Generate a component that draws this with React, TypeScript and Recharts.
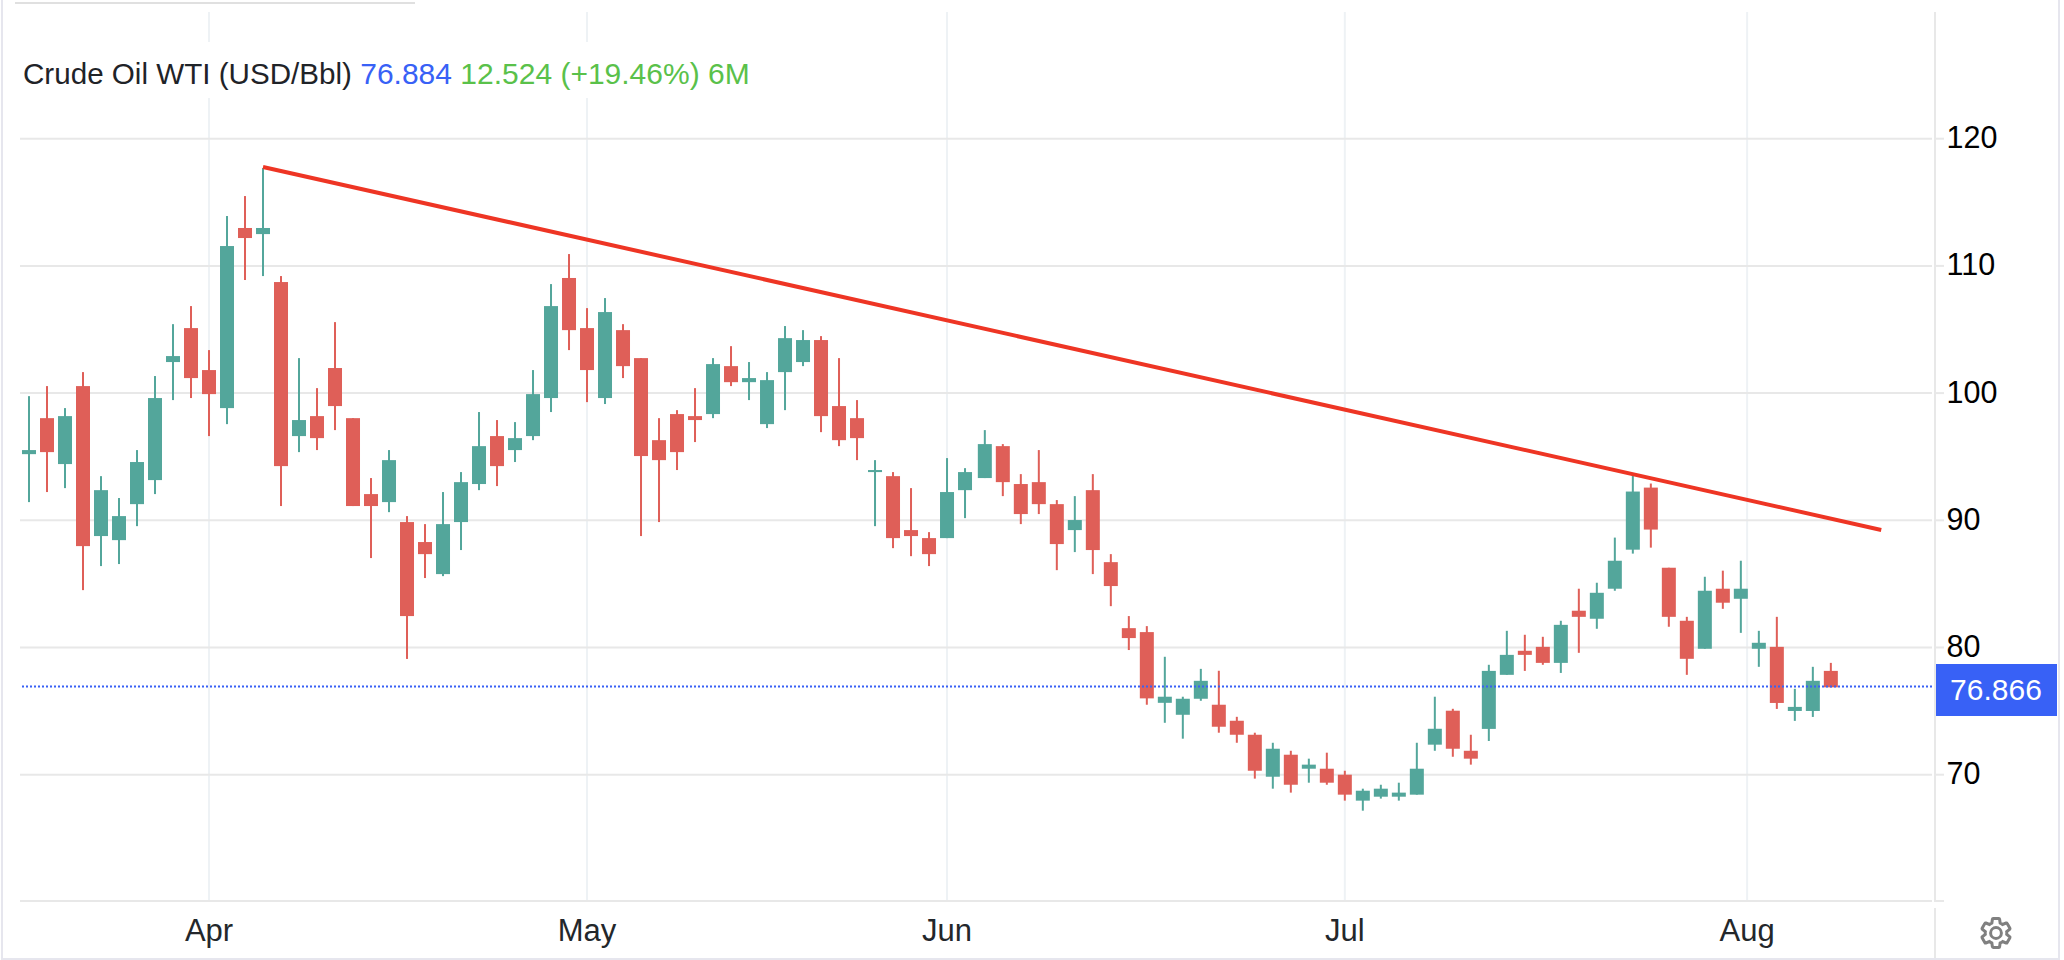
import { ComposedChart, Bar, XAxis, YAxis, CartesianGrid, ReferenceLine } from 'recharts';

const opens = [
  95.2, 98.03, 94.42, 100.55, 88.76, 88.44, 91.27, 93.16, 102.44, 105.11,
  101.81, 98.82, 112.98, 112.5, 108.73, 96.62, 98.19, 101.97, 98.03, 92.06,
  91.43, 89.86, 88.29, 85.77, 89.86, 92.85, 96.62, 95.52, 96.62, 99.61,
  109.05, 105.11, 99.61, 104.95, 102.75, 96.3, 98.35, 98.19, 98.35, 102.12,
  100.86, 97.56, 101.65, 102.44, 104.17, 98.98, 98.03, 93.79, 93.47, 89.23,
  88.6, 88.6, 92.37, 93.32, 95.83, 92.85, 93.0, 91.27, 89.23, 92.37,
  86.71, 81.52, 81.21, 75.65, 74.71, 75.97, 75.5, 74.24, 73.14, 69.84,
  71.57, 70.47, 70.47, 70.0, 67.96, 68.27, 68.27, 68.43, 72.36, 75.03,
  71.88, 73.6, 77.85, 79.74, 80.05, 78.79, 82.89, 82.26, 84.62, 87.69,
  92.57, 86.27, 82.1, 79.9, 84.62, 83.83, 79.9, 80.05, 75.01, 75.01,
  78.16,
];
const closes = [
  95.52, 95.36, 98.19, 87.97, 92.37, 90.33, 94.58, 99.61, 102.91, 101.18,
  99.92, 111.56, 112.19, 112.98, 94.26, 97.88, 96.46, 98.98, 91.12, 91.12,
  94.73, 82.47, 87.34, 89.7, 93.0, 95.83, 94.26, 96.46, 99.92, 106.84,
  104.95, 101.81, 106.37, 102.12, 95.05, 94.73, 95.36, 97.88, 102.28, 100.86,
  101.18, 101.02, 104.32, 104.17, 98.19, 96.3, 96.46, 93.95, 88.6, 88.76,
  87.34, 92.22, 93.79, 95.99, 93.0, 90.49, 91.27, 88.13, 90.02, 87.66,
  84.83, 80.74, 76.0, 76.13, 75.97, 77.38, 73.77, 73.14, 70.31, 72.04,
  69.21, 70.79, 69.37, 68.43, 68.74, 68.9, 68.59, 70.47, 73.61, 72.04,
  71.26, 78.16, 79.42, 79.42, 78.79, 81.78, 82.41, 84.3, 86.82, 92.26,
  89.27, 82.41, 79.11, 84.46, 83.52, 84.62, 80.37, 75.64, 75.33, 77.38,
  76.87,
];
const highs = [
  99.76, 100.55, 98.82, 101.65, 93.47, 91.75, 95.52, 101.34, 105.42, 106.84,
  103.38, 113.92, 115.49, 117.69, 109.2, 102.75, 100.39, 105.58, 98.03, 93.32,
  95.52, 90.33, 89.7, 92.22, 93.79, 98.51, 97.88, 97.72, 101.81, 108.57,
  110.93, 106.68, 107.47, 105.42, 102.75, 98.03, 98.66, 100.39, 102.75, 103.69,
  102.44, 101.65, 105.27, 104.95, 104.48, 102.75, 99.45, 94.73, 93.79, 92.53,
  89.07, 94.89, 94.1, 97.09, 95.99, 93.63, 95.52, 91.59, 91.9, 93.63,
  87.34, 82.47, 81.68, 79.27, 76.13, 78.32, 78.17, 74.55, 73.3, 72.51,
  71.88, 71.26, 71.73, 70.31, 68.9, 69.21, 69.37, 72.51, 76.13, 75.18,
  73.14, 78.64, 81.31, 81.0, 80.84, 82.1, 84.62, 85.09, 88.64, 93.52,
  92.89, 86.27, 82.41, 85.56, 86.04, 86.82, 81.31, 82.41, 76.75, 78.48,
  78.79,
];
const lows = [
  91.43, 92.22, 92.53, 84.51, 86.4, 86.56, 89.54, 92.06, 99.45, 99.61,
  96.62, 97.56, 108.89, 109.2, 91.12, 95.36, 95.52, 97.09, 91.12, 87.03,
  90.64, 79.1, 85.46, 85.61, 87.66, 92.37, 92.69, 94.58, 96.3, 98.51,
  103.38, 99.29, 99.14, 101.18, 88.76, 89.86, 93.95, 96.15, 98.03, 100.55,
  99.45, 97.25, 98.66, 102.12, 96.93, 95.83, 94.73, 89.54, 87.81, 87.18,
  86.4, 88.6, 90.17, 93.32, 91.9, 89.7, 90.49, 86.08, 87.5, 85.77,
  83.25, 79.8, 75.5, 74.08, 72.83, 75.81, 73.3, 72.51, 69.69, 68.9,
  68.59, 69.37, 69.21, 67.96, 67.17, 68.12, 67.96, 68.43, 71.88, 71.41,
  70.79, 72.65, 77.85, 78.16, 78.64, 78.0, 79.58, 81.47, 84.46, 87.38,
  87.85, 81.63, 77.85, 79.9, 83.04, 81.15, 78.48, 75.17, 74.23, 74.54,
  76.87,
];

const priceTicks = [60.07, 70, 80, 90, 100, 110, 120];
const monthTicks = [10, 31, 51, 73.1, 95.45];
const monthLabels = ['Apr', 'May', 'Jun', 'Jul', 'Aug'];
const lastPrice = 76.93;
const trendLine = [
  { x: 13, y: 117.78 },
  { x: 102.9, y: 89.24 },
];

const UP = '#53a69b';
const DOWN = '#df5f58';
const GRID = '#e8e8e8';
const FONT = '"Liberation Sans", Arial, sans-serif';

// the feed shifts the candles by a hair after session 52
const data = opens.map((open, i) => ({
  pos: i > 52 ? i + 0.1 : i,
  open,
  close: closes[i],
  high: highs[i],
  low: lows[i],
}));

const highLow = (d: any) => [d.low, d.high];

function Candle({ x, y, width, height, payload }: any) {
  const { open, close, high, low } = payload;
  const color = close >= open ? UP : DOWN;
  const k = height / (high - low || 1);
  const bodyTop = y + (high - Math.max(open, close)) * k;
  const bodyH = Math.max(Math.abs(open - close) * k, 2);
  const mid = x + width / 2;
  return (
    <g>
      <rect x={mid - 1} y={y} width={2} height={height} fill={color} />
      <rect x={x} y={bodyTop} width={width} height={bodyH} fill={color} />
    </g>
  );
}

function PriceTick({ x, y, payload }: any) {
  return (
    <g>
      <line x1={x - 4} x2={x + 4} y1={y} y2={y} stroke={GRID} strokeWidth={2} />
      {payload.value >= 70 && (
        <text x={x + 6.5} y={y + 9.5} fontSize={30.5} fontFamily={FONT} fill="#000">
          {payload.value}
        </text>
      )}
    </g>
  );
}

export default function App() {
  return (
    <div style={{ position: 'absolute', left: 0, top: 0, width: 2064, height: 960, background: '#fff', overflow: 'hidden' }}>
      <ComposedChart
        width={2064}
        height={960}
        data={data}
        margin={{ top: 12, right: 0, bottom: 0, left: 20 }}
      >
        <CartesianGrid horizontal={false} syncWithTicks stroke="#eef2f5" strokeWidth={2} />
        <CartesianGrid vertical={false} syncWithTicks stroke={GRID} strokeWidth={2} />
        <XAxis
          dataKey="pos"
          type="number"
          domain={[-0.5, 105.72]}
          ticks={monthTicks}
          height={59}
          axisLine={false}
          tickLine={false}
          tickMargin={12}
          tickFormatter={(v: number) => monthLabels[monthTicks.indexOf(v)]}
          tick={{ fontSize: 31, fontFamily: FONT, fill: '#23272b' }}
        />
        <YAxis
          orientation="right"
          width={132}
          domain={[60.07, 129.96]}
          ticks={priceTicks}
          axisLine={false}
          tickLine={false}
          tick={<PriceTick />}
        />
        <Bar dataKey={highLow} barSize={14} shape={<Candle />} isAnimationActive={false} />
        <ReferenceLine y={lastPrice} stroke="#3861f6" strokeWidth={2} strokeDasharray="2 2" />
        <ReferenceLine segment={trendLine} stroke="#ee3524" strokeWidth={4} />
      </ComposedChart>

      {/* title strip, white so it cuts the vertical grid lines */}
      <div
        style={{
          position: 'absolute', left: 23, top: 42, height: 56, lineHeight: '63px', paddingRight: 6,
          background: '#fff', whiteSpace: 'pre', fontFamily: FONT, fontSize: 30, color: '#1f2328',
        }}
      >
        <span style={{ fontSize: 29.6 }}>Crude Oil WTI (USD/Bbl)</span> <span style={{ color: '#3861f6' }}>76.884</span>{' '}
        <span style={{ color: '#5ac14a' }}>12.524 (+19.46%) 6M</span>
      </div>

      {/* last price tag */}
      <div
        style={{
          position: 'absolute', left: 1935, top: 664, width: 122, height: 52, lineHeight: '52px',
          background: '#3861f6', color: '#fff', textAlign: 'center', fontFamily: FONT, fontSize: 30,
        }}
      >
        76.866
      </div>

      {/* panel frame and axis rules */}
      <div style={{ position: 'absolute', left: 1934, top: 12, width: 2, height: 890, background: GRID }} />
      <div style={{ position: 'absolute', left: 1934, top: 908, width: 2, height: 50, background: GRID }} />
      <div style={{ position: 'absolute', left: 15, top: 2, width: 400, height: 2, background: '#e0e0e0' }} />
      <div style={{ position: 'absolute', left: 1, top: 0, width: 2, height: 960, background: '#e6e6ee' }} />
      <div style={{ position: 'absolute', left: 2058, top: 0, width: 2, height: 960, background: '#e6e6ee' }} />
      <div style={{ position: 'absolute', left: 1, top: 958, width: 2059, height: 2, background: '#e6e6ee' }} />

      {/* settings gear */}
      <svg style={{ position: 'absolute', left: 1978, top: 915 }} width={36} height={36} viewBox="0 0 24 24">
        <path
          fill="none"
          stroke="#808080"
          strokeWidth={2}
          d="M19.14 12.94c.04-.3.06-.61.06-.94 0-.32-.02-.64-.07-.94l2.03-1.58c.18-.14.23-.41.12-.61l-1.92-3.32c-.12-.22-.37-.29-.59-.22l-2.39.96c-.5-.38-1.03-.7-1.62-.94l-.36-2.54c-.04-.24-.24-.41-.48-.41h-3.84c-.24 0-.43.17-.47.41l-.36 2.54c-.59.24-1.13.57-1.62.94l-2.39-.96c-.22-.08-.47 0-.59.22L2.74 8.87c-.12.21-.08.47.12.61l2.03 1.58c-.05.3-.09.63-.09.94s.02.64.07.94l-2.03 1.58c-.18.14-.23.41-.12.61l1.92 3.32c.12.22.37.29.59.22l2.39-.96c.5.38 1.03.7 1.62.94l.36 2.54c.05.24.24.41.48.41h3.84c.24 0 .44-.17.47-.41l.36-2.54c.59-.24 1.13-.56 1.62-.94l2.39.96c.22.08.47 0 .59-.22l1.92-3.32c.12-.22.07-.47-.12-.61l-2.01-1.58zM12 15.6c-1.98 0-3.6-1.62-3.6-3.6s1.62-3.6 3.6-3.6 3.6 1.62 3.6 3.6-1.62 3.6-3.6 3.6z"
        />
      </svg>
    </div>
  );
}
